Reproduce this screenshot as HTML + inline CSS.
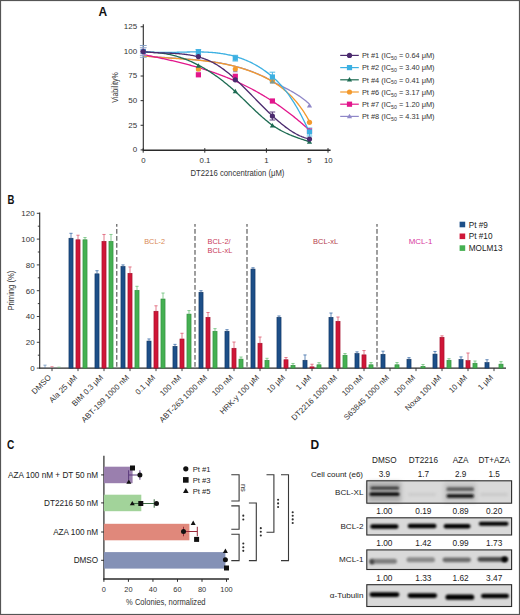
<!DOCTYPE html>
<html><head><meta charset="utf-8"><style>html,body{margin:0;padding:0;background:#fff;}svg{display:block;}text{font-family:"Liberation Sans",sans-serif;}</style></head>
<body>
<svg width="520" height="615" viewBox="0 0 520 615" font-family="Liberation Sans">
<defs><filter id="bl1" x="-20%" y="-100%" width="140%" height="300%"><feGaussianBlur stdDeviation="0.9"/></filter><filter id="bl2" x="-30%" y="-200%" width="160%" height="500%"><feGaussianBlur stdDeviation="1.4"/></filter><filter id="bl05" x="-20%" y="-100%" width="140%" height="300%"><feGaussianBlur stdDeviation="0.5"/></filter><filter id="bl08" x="-30%" y="-150%" width="160%" height="400%"><feGaussianBlur stdDeviation="1.0"/></filter><filter id="bl12" x="-30%" y="-200%" width="160%" height="500%"><feGaussianBlur stdDeviation="1.2"/></filter><filter id="bl3" x="-40%" y="-50%" width="180%" height="200%"><feGaussianBlur stdDeviation="2.2"/></filter></defs>
<rect x="0" y="0" width="520" height="615" fill="#fff"/>
<text x="98.40" y="16.10" font-size="12" fill="#111" text-anchor="start" font-weight="bold" >A</text>
<line x1="143.3" y1="24.3" x2="143.3" y2="150.5" stroke="#2a2a2a" stroke-width="1.1"/>
<line x1="142.8" y1="150.20000000000002" x2="330.6" y2="150.20000000000002" stroke="#2a2a2a" stroke-width="1.4"/>
<line x1="140.6" y1="149.90" x2="143.3" y2="149.90" stroke="#2a2a2a" stroke-width="1"/>
<text x="137.20" y="152.20" font-size="8.0" fill="#333" text-anchor="end" font-weight="normal" >0</text>
<line x1="140.6" y1="125.28" x2="143.3" y2="125.28" stroke="#2a2a2a" stroke-width="1"/>
<text x="137.20" y="127.58" font-size="8.0" fill="#333" text-anchor="end" font-weight="normal" >25</text>
<line x1="140.6" y1="100.65" x2="143.3" y2="100.65" stroke="#2a2a2a" stroke-width="1"/>
<text x="137.20" y="102.95" font-size="8.0" fill="#333" text-anchor="end" font-weight="normal" >50</text>
<line x1="140.6" y1="76.03" x2="143.3" y2="76.03" stroke="#2a2a2a" stroke-width="1"/>
<text x="137.20" y="78.33" font-size="8.0" fill="#333" text-anchor="end" font-weight="normal" >75</text>
<line x1="140.6" y1="51.40" x2="143.3" y2="51.40" stroke="#2a2a2a" stroke-width="1"/>
<text x="137.20" y="53.70" font-size="8.0" fill="#333" text-anchor="end" font-weight="normal" >100</text>
<line x1="140.6" y1="26.78" x2="143.3" y2="26.78" stroke="#2a2a2a" stroke-width="1"/>
<text x="137.20" y="29.08" font-size="8.0" fill="#333" text-anchor="end" font-weight="normal" >125</text>
<line x1="143.20" y1="148.1" x2="143.20" y2="152.70000000000002" stroke="#2a2a2a" stroke-width="1"/>
<line x1="204.80" y1="148.1" x2="204.80" y2="152.70000000000002" stroke="#2a2a2a" stroke-width="1"/>
<line x1="266.40" y1="148.1" x2="266.40" y2="152.70000000000002" stroke="#2a2a2a" stroke-width="1"/>
<line x1="328.00" y1="148.1" x2="328.00" y2="152.70000000000002" stroke="#2a2a2a" stroke-width="1"/>
<text x="143.30" y="163.10" font-size="7.8" fill="#333" text-anchor="middle" font-weight="normal" >0</text>
<text x="205.00" y="163.10" font-size="7.8" fill="#333" text-anchor="middle" font-weight="normal" >0.1</text>
<text x="266.40" y="163.10" font-size="7.8" fill="#333" text-anchor="middle" font-weight="normal" >1</text>
<text x="309.30" y="163.10" font-size="7.8" fill="#333" text-anchor="middle" font-weight="normal" >5</text>
<text x="328.30" y="163.10" font-size="7.8" fill="#333" text-anchor="middle" font-weight="normal" >10</text>
<text x="237.40" y="175.60" font-size="8.6" fill="#333" text-anchor="middle" font-weight="normal" textLength="94" lengthAdjust="spacingAndGlyphs">DT2216 concentration (μM)</text>
<text transform="translate(118.4 87.5) rotate(-90)" font-size="9" fill="#333" text-anchor="middle" textLength="30.5" lengthAdjust="spacingAndGlyphs">Viability%</text>
<polyline points="143.3,55.72 144.3,55.82 145.3,55.93 146.3,56.03 147.3,56.13 148.3,56.23 149.3,56.32 150.3,56.41 151.3,56.50 152.3,56.59 153.3,56.67 154.3,56.76 155.3,56.84 156.3,56.92 157.3,57.00 158.3,57.08 159.3,57.15 160.3,57.22 161.3,57.30 162.3,57.37 163.3,57.44 164.3,57.51 165.3,57.58 166.3,57.65 167.3,57.71 168.3,57.78 169.3,57.85 170.3,57.91 171.3,57.98 172.3,58.04 173.3,58.11 174.3,58.18 175.3,58.24 176.3,58.31 177.3,58.37 178.3,58.44 179.3,58.51 180.3,58.58 181.3,58.65 182.3,58.72 183.3,58.79 184.3,58.86 185.3,58.93 186.3,59.01 187.3,59.08 188.3,59.16 189.3,59.24 190.3,59.32 191.3,59.40 192.3,59.49 193.3,59.57 194.3,59.66 195.3,59.75 196.3,59.84 197.3,59.94 198.3,60.04 199.3,60.14 200.3,60.24 201.3,60.34 202.3,60.45 203.3,60.56 204.3,60.68 205.3,60.79 206.3,60.92 207.3,61.04 208.3,61.17 209.3,61.30 210.3,61.43 211.3,61.57 212.3,61.71 213.3,61.86 214.3,62.01 215.3,62.17 216.3,62.32 217.3,62.49 218.3,62.66 219.3,62.83 220.3,63.00 221.3,63.19 222.3,63.37 223.3,63.56 224.3,63.76 225.3,63.96 226.3,64.17 227.3,64.38 228.3,64.60 229.3,64.82 230.3,65.05 231.3,65.29 232.3,65.53 233.3,65.78 234.3,66.03 235.3,66.29 236.3,66.55 237.3,66.82 238.3,67.10 239.3,67.39 240.3,67.68 241.3,67.98 242.3,68.28 243.3,68.59 244.3,68.91 245.3,69.24 246.3,69.57 247.3,69.91 248.3,70.26 249.3,70.62 250.3,70.98 251.3,71.35 252.3,71.73 253.3,72.12 254.3,72.51 255.3,72.91 256.3,73.33 257.3,73.75 258.3,74.17 259.3,74.61 260.3,75.06 261.3,75.51 262.3,75.97 263.3,76.45 264.3,76.93 265.3,77.43 266.3,77.94 267.3,78.46 268.3,78.99 269.3,79.53 270.3,80.09 271.0,80.66 272.0,81.21 273.0,81.74 274.0,82.27 275.0,82.79 276.0,83.31 277.0,83.82 278.0,84.33 279.0,84.83 280.0,85.34 281.0,85.84 282.0,86.34 283.0,86.84 284.0,87.35 285.0,87.86 286.0,88.37 287.0,88.89 288.0,89.41 289.0,89.94 290.0,90.48 291.0,91.03 292.0,91.59 293.0,92.16 294.0,92.74 295.0,93.34 296.0,93.95 297.0,94.58 298.0,95.22 299.0,95.88 300.0,96.56 301.0,97.26 302.0,97.98 303.0,98.72 304.0,99.48 305.0,100.26 306.0,101.07 307.0,101.91 308.0,102.77 309.0,103.66" fill="none" stroke="#8f87c8" stroke-width="1.3" stroke-linejoin="round"/>
<polyline points="143.3,55.92 144.3,56.02 145.3,56.13 146.3,56.23 147.3,56.33 148.3,56.43 149.3,56.52 150.3,56.61 151.3,56.70 152.3,56.79 153.3,56.87 154.3,56.96 155.3,57.04 156.3,57.12 157.3,57.20 158.3,57.28 159.3,57.35 160.3,57.42 161.3,57.50 162.3,57.57 163.3,57.64 164.3,57.71 165.3,57.78 166.3,57.85 167.3,57.91 168.3,57.98 169.3,58.05 170.3,58.11 171.3,58.18 172.3,58.24 173.3,58.31 174.3,58.38 175.3,58.44 176.3,58.51 177.3,58.57 178.3,58.64 179.3,58.71 180.3,58.78 181.3,58.85 182.3,58.92 183.3,58.99 184.3,59.06 185.3,59.13 186.3,59.21 187.3,59.28 188.3,59.36 189.3,59.44 190.3,59.52 191.3,59.60 192.3,59.69 193.3,59.77 194.3,59.86 195.3,59.95 196.3,60.04 197.3,60.14 198.3,60.24 199.3,60.34 200.3,60.44 201.3,60.54 202.3,60.65 203.3,60.76 204.3,60.88 205.3,60.99 206.3,61.12 207.3,61.24 208.3,61.37 209.3,61.50 210.3,61.63 211.3,61.77 212.3,61.91 213.3,62.06 214.3,62.21 215.3,62.37 216.3,62.52 217.3,62.69 218.3,62.86 219.3,63.03 220.3,63.20 221.3,63.39 222.3,63.57 223.3,63.76 224.3,63.96 225.3,64.16 226.3,64.37 227.3,64.58 228.3,64.80 229.3,65.02 230.3,65.25 231.3,65.49 232.3,65.73 233.3,65.98 234.3,66.23 235.3,66.49 236.3,66.75 237.3,67.02 238.3,67.30 239.3,67.59 240.3,67.88 241.3,68.18 242.3,68.48 243.3,68.79 244.3,69.11 245.3,69.44 246.3,69.77 247.3,70.11 248.3,70.46 249.3,70.82 250.3,71.18 251.3,71.55 252.3,71.93 253.3,72.32 254.3,72.71 255.3,73.11 256.3,73.53 257.3,73.95 258.3,74.37 259.3,74.81 260.3,75.26 261.3,75.71 262.3,76.17 263.3,76.65 264.3,77.13 265.3,77.63 266.3,78.14 267.3,78.66 268.3,79.19 269.3,79.73 270.3,80.29 271.3,80.87 272.3,81.45 273.3,82.06 274.3,82.68 275.3,83.32 276.3,83.97 277.3,84.64 278.3,85.33 279.3,86.04 280.3,86.77 281.3,87.52 282.3,88.29 283.3,89.07 284.3,89.89 285.3,90.72 286.3,91.58 287.3,92.46 288.3,93.37 289.3,94.31 290.3,95.27 291.3,96.27 292.3,97.30 293.3,98.37 294.3,99.47 295.3,100.61 296.3,101.78 297.3,102.99 298.3,104.25 299.3,105.55 300.3,106.89 301.3,108.27 302.3,109.71 303.3,111.19 304.3,112.72 305.3,114.30 306.3,115.93 307.3,117.62 308.3,119.36 309.3,121.16" fill="none" stroke="#f39a2e" stroke-width="1.3" stroke-linejoin="round"/>
<polyline points="143.3,54.62 144.3,54.82 145.3,55.02 146.3,55.21 147.3,55.41 148.3,55.61 149.3,55.81 150.3,56.01 151.3,56.21 152.3,56.41 153.3,56.62 154.3,56.82 155.3,57.03 156.3,57.23 157.3,57.44 158.3,57.65 159.3,57.86 160.3,58.07 161.3,58.29 162.3,58.50 163.3,58.72 164.3,58.93 165.3,59.15 166.3,59.37 167.3,59.59 168.3,59.82 169.3,60.04 170.3,60.27 171.3,60.50 172.3,60.73 173.3,60.96 174.3,61.20 175.3,61.43 176.3,61.67 177.3,61.91 178.3,62.16 179.3,62.40 180.3,62.65 181.3,62.90 182.3,63.15 183.3,63.40 184.3,63.66 185.3,63.92 186.3,64.18 187.3,64.45 188.3,64.71 189.3,64.98 190.3,65.25 191.3,65.53 192.3,65.81 193.3,66.09 194.3,66.37 195.3,66.66 196.3,66.95 197.3,67.24 198.3,67.53 199.3,67.83 200.3,68.13 201.3,68.44 202.3,68.75 203.3,69.06 204.3,69.37 205.3,69.69 206.3,70.01 207.3,70.34 208.3,70.66 209.3,71.00 210.3,71.33 211.3,71.67 212.3,72.01 213.3,72.36 214.3,72.71 215.3,73.07 216.3,73.42 217.3,73.79 218.3,74.15 219.3,74.52 220.3,74.90 221.3,75.27 222.3,75.66 223.3,76.04 224.3,76.43 225.3,76.83 226.3,77.23 227.3,77.63 228.3,78.04 229.3,78.46 230.3,78.87 231.3,79.29 232.3,79.72 233.3,80.15 234.3,80.59 235.3,81.03 236.3,81.48 237.3,81.93 238.3,82.38 239.3,82.84 240.3,83.31 241.3,83.78 242.3,84.25 243.3,84.73 244.3,85.22 245.3,85.71 246.3,86.21 247.3,86.71 248.3,87.22 249.3,87.73 250.3,88.25 251.3,88.77 252.3,89.30 253.3,89.83 254.3,90.37 255.3,90.92 256.3,91.47 257.3,92.03 258.3,92.59 259.3,93.16 260.3,93.73 261.3,94.32 262.3,94.90 263.3,95.50 264.3,96.09 265.3,96.70 266.3,97.31 267.3,97.93 268.3,98.55 269.3,99.18 270.3,99.82 271.3,100.46 272.3,101.11 273.3,101.77 274.3,102.43 275.3,103.10 276.3,103.78 277.3,104.46 278.3,105.15 279.3,105.84 280.3,106.55 281.3,107.26 282.3,107.97 283.3,108.70 284.3,109.43 285.3,110.17 286.3,110.91 287.3,111.66 288.3,112.42 289.3,113.19 290.3,113.96 291.3,114.75 292.3,115.53 293.3,116.33 294.3,117.13 295.3,117.94 296.3,118.76 297.3,119.59 298.3,120.42 299.3,121.27 300.3,122.12 301.3,122.97 302.3,123.84 303.3,124.71 304.3,125.59 305.3,126.48 306.3,127.38 307.3,128.28 308.3,129.20 309.3,130.12" fill="none" stroke="#e2168c" stroke-width="1.3" stroke-linejoin="round"/>
<polyline points="143.3,52.54 144.3,52.48 145.3,52.43 146.3,52.40 147.3,52.37 148.3,52.35 149.3,52.35 150.3,52.36 151.3,52.37 152.3,52.40 153.3,52.44 154.3,52.49 155.3,52.54 156.3,52.61 157.3,52.69 158.3,52.78 159.3,52.88 160.3,53.00 161.3,53.12 162.3,53.25 163.3,53.39 164.3,53.55 165.3,53.71 166.3,53.89 167.3,54.07 168.3,54.27 169.3,54.47 170.3,54.69 171.3,54.92 172.3,55.16 173.3,55.40 174.3,55.66 175.3,55.93 176.3,56.21 177.3,56.50 178.3,56.81 179.3,57.12 180.3,57.44 181.3,57.77 182.3,58.12 183.3,58.47 184.3,58.84 185.3,59.21 186.3,59.60 187.3,60.00 188.3,60.40 189.3,60.82 190.3,61.25 191.3,61.69 192.3,62.14 193.3,62.60 194.3,63.07 195.3,63.55 196.3,64.05 197.3,64.55 198.3,65.06 199.3,65.59 200.3,66.12 201.3,66.67 202.3,67.22 203.3,67.79 204.3,68.37 205.3,68.96 206.3,69.55 207.3,70.16 208.3,70.78 209.3,71.41 210.3,72.06 211.3,72.71 212.3,73.37 213.3,74.04 214.3,74.73 215.3,75.42 216.3,76.13 217.3,76.84 218.3,77.57 219.3,78.31 220.3,79.05 221.3,79.81 222.3,80.58 223.3,81.36 224.3,82.15 225.3,82.95 226.3,83.77 227.3,84.59 228.3,85.42 229.3,86.27 230.3,87.12 231.3,87.99 232.3,88.86 233.3,89.75 234.3,90.65 235.3,91.55 236.3,92.47 237.3,93.40 238.3,94.34 239.3,95.28 240.3,96.23 241.3,97.19 242.3,98.15 243.3,99.11 244.3,100.08 245.3,101.05 246.3,102.03 247.3,103.00 248.3,103.97 249.3,104.95 250.3,105.92 251.3,106.89 252.3,107.85 253.3,108.81 254.3,109.77 255.3,110.72 256.3,111.66 257.3,112.59 258.3,113.52 259.3,114.44 260.3,115.35 261.3,116.24 262.3,117.13 263.3,118.00 264.3,118.85 265.3,119.70 266.3,120.53 267.3,121.34 268.3,122.13 269.3,122.91 270.3,123.67 271.3,124.41 272.3,125.13 273.3,125.82 274.3,126.50 275.3,127.16 276.3,127.79 277.3,128.41 278.3,129.01 279.3,129.59 280.3,130.16 281.3,130.71 282.3,131.24 283.3,131.76 284.3,132.26 285.3,132.74 286.3,133.22 287.3,133.68 288.3,134.13 289.3,134.56 290.3,134.99 291.3,135.40 292.3,135.80 293.3,136.20 294.3,136.58 295.3,136.96 296.3,137.33 297.3,137.69 298.3,138.04 299.3,138.39 300.3,138.74 301.3,139.07 302.3,139.41 303.3,139.74 304.3,140.06 305.3,140.39 306.3,140.71 307.3,141.03 308.3,141.35 309.3,141.67" fill="none" stroke="#1d6b52" stroke-width="1.3" stroke-linejoin="round"/>
<polyline points="143.3,51.48 144.3,51.58 145.3,51.68 146.3,51.78 147.3,51.86 148.3,51.94 149.3,52.02 150.3,52.08 151.3,52.14 152.3,52.20 153.3,52.25 154.3,52.29 155.3,52.33 156.3,52.36 157.3,52.39 158.3,52.42 159.3,52.44 160.3,52.45 161.3,52.46 162.3,52.47 163.3,52.47 164.3,52.47 165.3,52.47 166.3,52.47 167.3,52.46 168.3,52.45 169.3,52.43 170.3,52.42 171.3,52.40 172.3,52.38 173.3,52.36 174.3,52.34 175.3,52.31 176.3,52.29 177.3,52.26 178.3,52.24 179.3,52.21 180.3,52.19 181.3,52.16 182.3,52.13 183.3,52.11 184.3,52.08 185.3,52.06 186.3,52.04 187.3,52.02 188.3,52.00 189.3,51.98 190.3,51.96 191.3,51.95 192.3,51.94 193.3,51.93 194.3,51.92 195.3,51.92 196.3,51.91 197.3,51.92 198.3,51.92 199.3,51.93 200.3,51.95 201.3,51.97 202.3,51.99 203.3,52.02 204.3,52.05 205.3,52.08 206.3,52.13 207.3,52.17 208.3,52.23 209.3,52.29 210.3,52.35 211.3,52.42 212.3,52.50 213.3,52.58 214.3,52.67 215.3,52.77 216.3,52.88 217.3,52.99 218.3,53.11 219.3,53.24 220.3,53.37 221.3,53.52 222.3,53.67 223.3,53.83 224.3,54.00 225.3,54.18 226.3,54.37 227.3,54.57 228.3,54.78 229.3,54.99 230.3,55.22 231.3,55.46 232.3,55.71 233.3,55.97 234.3,56.24 235.3,56.52 236.3,56.81 237.3,57.12 238.3,57.43 239.3,57.76 240.3,58.10 241.3,58.45 242.3,58.82 243.3,59.19 244.3,59.58 245.3,59.99 246.3,60.40 247.3,60.83 248.3,61.28 249.3,61.74 250.3,62.21 251.3,62.70 252.3,63.20 253.3,63.71 254.3,64.25 255.3,64.79 256.3,65.35 257.3,65.93 258.3,66.52 259.3,67.13 260.3,67.76 261.3,68.40 262.3,69.06 263.3,69.74 264.3,70.43 265.3,71.14 266.3,71.87 267.3,72.61 268.3,73.38 269.3,74.16 270.3,74.97 271.3,75.80 272.3,76.66 273.3,77.54 274.3,78.44 275.3,79.37 276.3,80.33 277.3,81.31 278.3,82.32 279.3,83.37 280.3,84.44 281.3,85.54 282.3,86.68 283.3,87.85 284.3,89.05 285.3,90.29 286.3,91.57 287.3,92.88 288.3,94.23 289.3,95.61 290.3,97.04 291.3,98.51 292.3,100.02 293.3,101.57 294.3,103.16 295.3,104.80 296.3,106.48 297.3,108.20 298.3,109.97 299.3,111.78 300.3,113.63 301.3,115.52 302.3,117.46 303.3,119.44 304.3,121.46 305.3,123.53 306.3,125.64 307.3,127.79 308.3,129.98 309.3,132.22" fill="none" stroke="#3cb0e2" stroke-width="1.3" stroke-linejoin="round"/>
<polyline points="143.3,51.53 144.3,51.66 145.3,51.78 146.3,51.89 147.3,52.00 148.3,52.09 149.3,52.18 150.3,52.27 151.3,52.35 152.3,52.42 153.3,52.49 154.3,52.55 155.3,52.61 156.3,52.66 157.3,52.71 158.3,52.76 159.3,52.80 160.3,52.84 161.3,52.88 162.3,52.92 163.3,52.96 164.3,53.00 165.3,53.03 166.3,53.07 167.3,53.11 168.3,53.15 169.3,53.19 170.3,53.23 171.3,53.27 172.3,53.32 173.3,53.37 174.3,53.42 175.3,53.48 176.3,53.54 177.3,53.61 178.3,53.68 179.3,53.76 180.3,53.84 181.3,53.93 182.3,54.03 183.3,54.14 184.3,54.25 185.3,54.37 186.3,54.50 187.3,54.64 188.3,54.78 189.3,54.94 190.3,55.11 191.3,55.29 192.3,55.48 193.3,55.68 194.3,55.89 195.3,56.12 196.3,56.35 197.3,56.61 198.3,56.87 199.3,57.15 200.3,57.44 201.3,57.75 202.3,58.08 203.3,58.42 204.3,58.77 205.3,59.14 206.3,59.53 207.3,59.94 208.3,60.37 209.3,60.81 210.3,61.27 211.3,61.75 212.3,62.25 213.3,62.77 214.3,63.32 215.3,63.88 216.3,64.46 217.3,65.07 218.3,65.69 219.3,66.34 220.3,67.01 221.3,67.70 222.3,68.41 223.3,69.14 224.3,69.88 225.3,70.65 226.3,71.43 227.3,72.23 228.3,73.04 229.3,73.87 230.3,74.72 231.3,75.57 232.3,76.45 233.3,77.33 234.3,78.23 235.3,79.14 236.3,80.06 237.3,80.99 238.3,81.94 239.3,82.89 240.3,83.85 241.3,84.82 242.3,85.79 243.3,86.78 244.3,87.77 245.3,88.76 246.3,89.76 247.3,90.77 248.3,91.78 249.3,92.79 250.3,93.81 251.3,94.83 252.3,95.85 253.3,96.87 254.3,97.89 255.3,98.91 256.3,99.93 257.3,100.95 258.3,101.97 259.3,102.99 260.3,104.00 261.3,105.01 262.3,106.02 263.3,107.02 264.3,108.02 265.3,109.02 266.3,110.00 267.3,110.98 268.3,111.95 269.3,112.92 270.3,113.88 271.3,114.82 272.3,115.76 273.3,116.69 274.3,117.61 275.3,118.52 276.3,119.41 277.3,120.30 278.3,121.17 279.3,122.02 280.3,122.87 281.3,123.70 282.3,124.51 283.3,125.31 284.3,126.09 285.3,126.86 286.3,127.61 287.3,128.34 288.3,129.05 289.3,129.75 290.3,130.42 291.3,131.08 292.3,131.71 293.3,132.33 294.3,132.92 295.3,133.49 296.3,134.04 297.3,134.56 298.3,135.06 299.3,135.54 300.3,135.99 301.3,136.41 302.3,136.81 303.3,137.18 304.3,137.53 305.3,137.85 306.3,138.14 307.3,138.40 308.3,138.63 309.3,138.83" fill="none" stroke="#4b2a6e" stroke-width="1.3" stroke-linejoin="round"/>
<line x1="143.3" y1="45.5" x2="143.3" y2="57.3" stroke="#7f9cc4" stroke-width="0.9"/>
<line x1="139.9" y1="45.5" x2="146.70000000000002" y2="45.5" stroke="#7f9cc4" stroke-width="0.9"/>
<line x1="139.9" y1="57.3" x2="146.70000000000002" y2="57.3" stroke="#7f9cc4" stroke-width="0.9"/>
<line x1="143.3" y1="47.7" x2="143.3" y2="55.4" stroke="#8fa3c8" stroke-width="0.9"/>
<line x1="139.9" y1="47.7" x2="146.70000000000002" y2="47.7" stroke="#8fa3c8" stroke-width="0.9"/>
<line x1="139.9" y1="55.4" x2="146.70000000000002" y2="55.4" stroke="#8fa3c8" stroke-width="0.9"/>
<line x1="235.3" y1="55.3" x2="235.3" y2="61.0" stroke="#3cb0e2" stroke-width="0.9"/>
<line x1="232.5" y1="55.3" x2="238.10000000000002" y2="55.3" stroke="#3cb0e2" stroke-width="0.9"/>
<line x1="232.5" y1="61.0" x2="238.10000000000002" y2="61.0" stroke="#3cb0e2" stroke-width="0.9"/>
<line x1="272.4" y1="72.2" x2="272.4" y2="82.0" stroke="#3cb0e2" stroke-width="0.9"/>
<line x1="269.59999999999997" y1="72.2" x2="275.2" y2="72.2" stroke="#3cb0e2" stroke-width="0.9"/>
<line x1="269.59999999999997" y1="82.0" x2="275.2" y2="82.0" stroke="#3cb0e2" stroke-width="0.9"/>
<line x1="309.5" y1="128.0" x2="309.5" y2="136.0" stroke="#3cb0e2" stroke-width="0.9"/>
<line x1="306.7" y1="128.0" x2="312.3" y2="128.0" stroke="#3cb0e2" stroke-width="0.9"/>
<line x1="306.7" y1="136.0" x2="312.3" y2="136.0" stroke="#3cb0e2" stroke-width="0.9"/>
<line x1="272.4" y1="112.0" x2="272.4" y2="120.0" stroke="#4b2a6e" stroke-width="0.9"/>
<line x1="269.59999999999997" y1="112.0" x2="275.2" y2="112.0" stroke="#4b2a6e" stroke-width="0.9"/>
<line x1="269.59999999999997" y1="120.0" x2="275.2" y2="120.0" stroke="#4b2a6e" stroke-width="0.9"/>
<line x1="198.4" y1="49.5" x2="198.4" y2="54.8" stroke="#3cb0e2" stroke-width="0.9"/>
<line x1="195.6" y1="49.5" x2="201.20000000000002" y2="49.5" stroke="#3cb0e2" stroke-width="0.9"/>
<line x1="195.6" y1="54.8" x2="201.20000000000002" y2="54.8" stroke="#3cb0e2" stroke-width="0.9"/>
<path d="M143.30,48.77 L145.90,53.32 L140.70,53.32 Z" fill="#8f87c8"/>
<path d="M198.40,66.77 L201.00,71.32 L195.80,71.32 Z" fill="#8f87c8"/>
<path d="M235.30,67.77 L237.90,72.32 L232.70,72.32 Z" fill="#8f87c8"/>
<path d="M272.40,78.77 L275.00,83.32 L269.80,83.32 Z" fill="#8f87c8"/>
<path d="M309.50,103.07 L312.10,107.62 L306.90,107.62 Z" fill="#8f87c8"/>
<circle cx="143.30" cy="51.50" r="2.60" fill="#f39a2e"/>
<circle cx="198.40" cy="69.00" r="2.60" fill="#f39a2e"/>
<circle cx="235.30" cy="69.00" r="2.60" fill="#f39a2e"/>
<circle cx="272.40" cy="80.60" r="2.60" fill="#f39a2e"/>
<circle cx="309.50" cy="122.30" r="2.60" fill="#f39a2e"/>
<path d="M272.40,79.07 L275.00,83.62 L269.80,83.62 Z" fill="#7f9a86"/>
<rect x="140.70" y="48.90" width="5.20" height="5.20" fill="#e2168c"/>
<rect x="195.80" y="72.20" width="5.20" height="5.20" fill="#e2168c"/>
<rect x="232.70" y="73.70" width="5.20" height="5.20" fill="#e2168c"/>
<rect x="269.80" y="98.40" width="5.20" height="5.20" fill="#e2168c"/>
<rect x="306.90" y="128.40" width="5.20" height="5.20" fill="#e2168c"/>
<path d="M143.30,48.77 L145.90,53.32 L140.70,53.32 Z" fill="#1d6b52"/>
<path d="M198.40,63.17 L201.00,67.72 L195.80,67.72 Z" fill="#1d6b52"/>
<path d="M235.30,88.77 L237.90,93.32 L232.70,93.32 Z" fill="#1d6b52"/>
<path d="M272.40,122.97 L275.00,127.52 L269.80,127.52 Z" fill="#1d6b52"/>
<path d="M309.50,139.17 L312.10,143.72 L306.90,143.72 Z" fill="#1d6b52"/>
<rect x="140.70" y="48.90" width="5.20" height="5.20" fill="#3cb0e2"/>
<rect x="195.80" y="49.50" width="5.20" height="5.20" fill="#3cb0e2"/>
<rect x="232.70" y="55.50" width="5.20" height="5.20" fill="#3cb0e2"/>
<rect x="269.80" y="74.40" width="5.20" height="5.20" fill="#3cb0e2"/>
<rect x="306.90" y="129.30" width="5.20" height="5.20" fill="#3cb0e2"/>
<circle cx="143.30" cy="51.50" r="2.60" fill="#4b2a6e"/>
<circle cx="198.40" cy="56.60" r="2.60" fill="#4b2a6e"/>
<circle cx="235.30" cy="79.80" r="2.60" fill="#4b2a6e"/>
<circle cx="272.40" cy="116.00" r="2.60" fill="#4b2a6e"/>
<circle cx="309.50" cy="139.10" r="2.60" fill="#4b2a6e"/>
<line x1="340.2" y1="55.40" x2="358.8" y2="55.40" stroke="#4b2a6e" stroke-width="1.2"/>
<circle cx="349.50" cy="55.40" r="2.60" fill="#4b2a6e"/>
<text x="361.9" y="58.10" font-size="7.4" fill="#333">Pt #1 (IC<tspan font-size="5.2" dy="1.8">50</tspan><tspan dy="-1.8"> = 0.64 μM)</tspan></text>
<line x1="340.2" y1="67.60" x2="358.8" y2="67.60" stroke="#3cb0e2" stroke-width="1.2"/>
<rect x="346.90" y="65.00" width="5.20" height="5.20" fill="#3cb0e2"/>
<text x="361.9" y="70.30" font-size="7.4" fill="#333">Pt #2 (IC<tspan font-size="5.2" dy="1.8">50</tspan><tspan dy="-1.8"> = 3.40 μM)</tspan></text>
<line x1="340.2" y1="79.80" x2="358.8" y2="79.80" stroke="#1d6b52" stroke-width="1.2"/>
<path d="M349.50,77.07 L352.10,81.62 L346.90,81.62 Z" fill="#1d6b52"/>
<text x="361.9" y="82.50" font-size="7.4" fill="#333">Pt #4 (IC<tspan font-size="5.2" dy="1.8">50</tspan><tspan dy="-1.8"> = 0.41 μM)</tspan></text>
<line x1="340.2" y1="92.00" x2="358.8" y2="92.00" stroke="#f39a2e" stroke-width="1.2"/>
<circle cx="349.50" cy="92.00" r="2.60" fill="#f39a2e"/>
<text x="361.9" y="94.70" font-size="7.4" fill="#333">Pt #6 (IC<tspan font-size="5.2" dy="1.8">50</tspan><tspan dy="-1.8"> = 3.17 μM)</tspan></text>
<line x1="340.2" y1="104.20" x2="358.8" y2="104.20" stroke="#e2168c" stroke-width="1.2"/>
<rect x="346.90" y="101.60" width="5.20" height="5.20" fill="#e2168c"/>
<text x="361.9" y="106.90" font-size="7.4" fill="#333">Pt #7 (IC<tspan font-size="5.2" dy="1.8">50</tspan><tspan dy="-1.8"> = 1.20 μM)</tspan></text>
<line x1="340.2" y1="116.40" x2="358.8" y2="116.40" stroke="#8f87c8" stroke-width="1.2"/>
<path d="M349.50,113.67 L352.10,118.22 L346.90,118.22 Z" fill="#8f87c8"/>
<text x="361.9" y="119.10" font-size="7.4" fill="#333">Pt #8 (IC<tspan font-size="5.2" dy="1.8">50</tspan><tspan dy="-1.8"> = 4.31 μM)</tspan></text>
<text x="7.50" y="203.50" font-size="12" fill="#111" text-anchor="start" font-weight="bold" textLength="6.9" lengthAdjust="spacingAndGlyphs">B</text>
<line x1="39.7" y1="212.6" x2="39.7" y2="368.6" stroke="#2a2a2a" stroke-width="1.1"/>
<line x1="39.2" y1="368.1" x2="506" y2="368.1" stroke="#2a2a2a" stroke-width="1.3"/>
<line x1="36.8" y1="368.10" x2="39.7" y2="368.10" stroke="#2a2a2a" stroke-width="0.9"/>
<text x="34.60" y="371.00" font-size="8" fill="#333" text-anchor="end" font-weight="normal" >0</text>
<line x1="37.8" y1="355.20" x2="39.7" y2="355.20" stroke="#2a2a2a" stroke-width="0.9"/>
<line x1="36.8" y1="342.30" x2="39.7" y2="342.30" stroke="#2a2a2a" stroke-width="0.9"/>
<text x="34.60" y="345.20" font-size="8" fill="#333" text-anchor="end" font-weight="normal" >20</text>
<line x1="37.8" y1="329.40" x2="39.7" y2="329.40" stroke="#2a2a2a" stroke-width="0.9"/>
<line x1="36.8" y1="316.50" x2="39.7" y2="316.50" stroke="#2a2a2a" stroke-width="0.9"/>
<text x="34.60" y="319.40" font-size="8" fill="#333" text-anchor="end" font-weight="normal" >40</text>
<line x1="37.8" y1="303.60" x2="39.7" y2="303.60" stroke="#2a2a2a" stroke-width="0.9"/>
<line x1="36.8" y1="290.70" x2="39.7" y2="290.70" stroke="#2a2a2a" stroke-width="0.9"/>
<text x="34.60" y="293.60" font-size="8" fill="#333" text-anchor="end" font-weight="normal" >60</text>
<line x1="37.8" y1="277.80" x2="39.7" y2="277.80" stroke="#2a2a2a" stroke-width="0.9"/>
<line x1="36.8" y1="264.90" x2="39.7" y2="264.90" stroke="#2a2a2a" stroke-width="0.9"/>
<text x="34.60" y="267.80" font-size="8" fill="#333" text-anchor="end" font-weight="normal" >80</text>
<line x1="37.8" y1="252.00" x2="39.7" y2="252.00" stroke="#2a2a2a" stroke-width="0.9"/>
<line x1="36.8" y1="239.10" x2="39.7" y2="239.10" stroke="#2a2a2a" stroke-width="0.9"/>
<text x="34.60" y="242.00" font-size="8" fill="#333" text-anchor="end" font-weight="normal" >100</text>
<line x1="37.8" y1="226.20" x2="39.7" y2="226.20" stroke="#2a2a2a" stroke-width="0.9"/>
<line x1="36.8" y1="213.30" x2="39.7" y2="213.30" stroke="#2a2a2a" stroke-width="0.9"/>
<text x="34.60" y="216.20" font-size="8" fill="#333" text-anchor="end" font-weight="normal" >120</text>
<text transform="translate(14.0 290.6) rotate(-90)" font-size="8.6" fill="#333" text-anchor="middle" textLength="40" lengthAdjust="spacingAndGlyphs">Priming (%)</text>
<line x1="52" y1="368.1" x2="52" y2="371.1" stroke="#2a2a2a" stroke-width="0.9"/>
<line x1="43.4" y1="365.13" x2="46.6" y2="365.13" stroke="#3f6fa8" stroke-width="0.8" opacity="0.7"/>
<line x1="45" y1="365.13" x2="45" y2="368.1" stroke="#3f6fa8" stroke-width="0.8" opacity="0.7"/>
<line x1="50.4" y1="366.55" x2="53.6" y2="366.55" stroke="#dd5a70" stroke-width="0.8" opacity="0.7"/>
<line x1="52" y1="366.55" x2="52" y2="368.1" stroke="#dd5a70" stroke-width="0.8" opacity="0.7"/>
<line x1="57.4" y1="367.07" x2="60.6" y2="367.07" stroke="#6cc078" stroke-width="0.8" opacity="0.7"/>
<line x1="59" y1="367.07" x2="59" y2="368.1" stroke="#6cc078" stroke-width="0.8" opacity="0.7"/>
<line x1="78" y1="368.1" x2="78" y2="371.1" stroke="#2a2a2a" stroke-width="0.9"/>
<line x1="71" y1="233.30" x2="71" y2="237.94" stroke="#3f6fa8" stroke-width="0.8"/>
<line x1="69.4" y1="233.30" x2="72.6" y2="233.30" stroke="#3f6fa8" stroke-width="0.8"/>
<rect x="68.95" y="238.24" width="4.10" height="129.86" fill="#1d4f88" stroke="#0f3360" stroke-width="0.6"/>
<line x1="78" y1="235.23" x2="78" y2="239.49" stroke="#dd5a70" stroke-width="0.8"/>
<line x1="76.4" y1="235.23" x2="79.6" y2="235.23" stroke="#dd5a70" stroke-width="0.8"/>
<rect x="75.95" y="239.79" width="4.10" height="128.31" fill="#cf1637" stroke="#a10c28" stroke-width="0.6"/>
<line x1="85" y1="237.55" x2="85" y2="239.49" stroke="#6cc078" stroke-width="0.8"/>
<line x1="83.4" y1="237.55" x2="86.6" y2="237.55" stroke="#6cc078" stroke-width="0.8"/>
<rect x="82.95" y="239.79" width="4.10" height="128.31" fill="#45b052" stroke="#2e8a3b" stroke-width="0.6"/>
<line x1="104" y1="368.1" x2="104" y2="371.1" stroke="#2a2a2a" stroke-width="0.9"/>
<line x1="97" y1="270.71" x2="97" y2="273.54" stroke="#3f6fa8" stroke-width="0.8"/>
<line x1="95.4" y1="270.71" x2="98.6" y2="270.71" stroke="#3f6fa8" stroke-width="0.8"/>
<rect x="94.95" y="273.84" width="4.10" height="94.26" fill="#1d4f88" stroke="#0f3360" stroke-width="0.6"/>
<line x1="104" y1="234.46" x2="104" y2="241.04" stroke="#dd5a70" stroke-width="0.8"/>
<line x1="102.4" y1="234.46" x2="105.6" y2="234.46" stroke="#dd5a70" stroke-width="0.8"/>
<rect x="101.95" y="241.34" width="4.10" height="126.77" fill="#cf1637" stroke="#a10c28" stroke-width="0.6"/>
<line x1="111" y1="234.46" x2="111" y2="241.04" stroke="#6cc078" stroke-width="0.8"/>
<line x1="109.4" y1="234.46" x2="112.6" y2="234.46" stroke="#6cc078" stroke-width="0.8"/>
<rect x="108.95" y="241.34" width="4.10" height="126.77" fill="#45b052" stroke="#2e8a3b" stroke-width="0.6"/>
<line x1="130" y1="368.1" x2="130" y2="371.1" stroke="#2a2a2a" stroke-width="0.9"/>
<line x1="123" y1="264.90" x2="123" y2="266.19" stroke="#3f6fa8" stroke-width="0.8"/>
<line x1="121.4" y1="264.90" x2="124.6" y2="264.90" stroke="#3f6fa8" stroke-width="0.8"/>
<rect x="120.95" y="266.49" width="4.10" height="101.61" fill="#1d4f88" stroke="#0f3360" stroke-width="0.6"/>
<line x1="130" y1="266.96" x2="130" y2="273.03" stroke="#dd5a70" stroke-width="0.8"/>
<line x1="128.4" y1="266.96" x2="131.6" y2="266.96" stroke="#dd5a70" stroke-width="0.8"/>
<rect x="127.95" y="273.33" width="4.10" height="94.77" fill="#cf1637" stroke="#a10c28" stroke-width="0.6"/>
<line x1="137" y1="286.31" x2="137" y2="290.06" stroke="#6cc078" stroke-width="0.8"/>
<line x1="135.4" y1="286.31" x2="138.6" y2="286.31" stroke="#6cc078" stroke-width="0.8"/>
<rect x="134.95" y="290.36" width="4.10" height="77.75" fill="#45b052" stroke="#2e8a3b" stroke-width="0.6"/>
<line x1="156" y1="368.1" x2="156" y2="371.1" stroke="#2a2a2a" stroke-width="0.9"/>
<line x1="149" y1="338.95" x2="149" y2="340.75" stroke="#3f6fa8" stroke-width="0.8"/>
<line x1="147.4" y1="338.95" x2="150.6" y2="338.95" stroke="#3f6fa8" stroke-width="0.8"/>
<rect x="146.95" y="341.05" width="4.10" height="27.05" fill="#1d4f88" stroke="#0f3360" stroke-width="0.6"/>
<line x1="156" y1="305.79" x2="156" y2="310.95" stroke="#dd5a70" stroke-width="0.8"/>
<line x1="154.4" y1="305.79" x2="157.6" y2="305.79" stroke="#dd5a70" stroke-width="0.8"/>
<rect x="153.95" y="311.25" width="4.10" height="56.85" fill="#cf1637" stroke="#a10c28" stroke-width="0.6"/>
<line x1="163" y1="293.02" x2="163" y2="298.70" stroke="#6cc078" stroke-width="0.8"/>
<line x1="161.4" y1="293.02" x2="164.6" y2="293.02" stroke="#6cc078" stroke-width="0.8"/>
<rect x="160.95" y="299.00" width="4.10" height="69.10" fill="#45b052" stroke="#2e8a3b" stroke-width="0.6"/>
<line x1="182" y1="368.1" x2="182" y2="371.1" stroke="#2a2a2a" stroke-width="0.9"/>
<line x1="175" y1="344.36" x2="175" y2="346.04" stroke="#3f6fa8" stroke-width="0.8"/>
<line x1="173.4" y1="344.36" x2="176.6" y2="344.36" stroke="#3f6fa8" stroke-width="0.8"/>
<rect x="172.95" y="346.34" width="4.10" height="21.76" fill="#1d4f88" stroke="#0f3360" stroke-width="0.6"/>
<line x1="182" y1="333.27" x2="182" y2="338.69" stroke="#dd5a70" stroke-width="0.8"/>
<line x1="180.4" y1="333.27" x2="183.6" y2="333.27" stroke="#dd5a70" stroke-width="0.8"/>
<rect x="179.95" y="338.99" width="4.10" height="29.11" fill="#cf1637" stroke="#a10c28" stroke-width="0.6"/>
<line x1="189" y1="310.57" x2="189" y2="313.79" stroke="#6cc078" stroke-width="0.8"/>
<line x1="187.4" y1="310.57" x2="190.6" y2="310.57" stroke="#6cc078" stroke-width="0.8"/>
<rect x="186.95" y="314.09" width="4.10" height="54.01" fill="#45b052" stroke="#2e8a3b" stroke-width="0.6"/>
<line x1="208" y1="368.1" x2="208" y2="371.1" stroke="#2a2a2a" stroke-width="0.9"/>
<line x1="201" y1="290.70" x2="201" y2="291.99" stroke="#3f6fa8" stroke-width="0.8"/>
<line x1="199.4" y1="290.70" x2="202.6" y2="290.70" stroke="#3f6fa8" stroke-width="0.8"/>
<rect x="198.95" y="292.29" width="4.10" height="75.81" fill="#1d4f88" stroke="#0f3360" stroke-width="0.6"/>
<line x1="208" y1="312.50" x2="208" y2="317.02" stroke="#dd5a70" stroke-width="0.8"/>
<line x1="206.4" y1="312.50" x2="209.6" y2="312.50" stroke="#dd5a70" stroke-width="0.8"/>
<rect x="205.95" y="317.32" width="4.10" height="50.78" fill="#cf1637" stroke="#a10c28" stroke-width="0.6"/>
<line x1="215" y1="328.63" x2="215" y2="330.95" stroke="#6cc078" stroke-width="0.8"/>
<line x1="213.4" y1="328.63" x2="216.6" y2="328.63" stroke="#6cc078" stroke-width="0.8"/>
<rect x="212.95" y="331.25" width="4.10" height="36.85" fill="#45b052" stroke="#2e8a3b" stroke-width="0.6"/>
<line x1="234" y1="368.1" x2="234" y2="371.1" stroke="#2a2a2a" stroke-width="0.9"/>
<line x1="227" y1="329.66" x2="227" y2="330.95" stroke="#3f6fa8" stroke-width="0.8"/>
<line x1="225.4" y1="329.66" x2="228.6" y2="329.66" stroke="#3f6fa8" stroke-width="0.8"/>
<rect x="224.95" y="331.25" width="4.10" height="36.85" fill="#1d4f88" stroke="#0f3360" stroke-width="0.6"/>
<line x1="234" y1="342.04" x2="234" y2="347.98" stroke="#dd5a70" stroke-width="0.8"/>
<line x1="232.4" y1="342.04" x2="235.6" y2="342.04" stroke="#dd5a70" stroke-width="0.8"/>
<rect x="231.95" y="348.28" width="4.10" height="19.82" fill="#cf1637" stroke="#a10c28" stroke-width="0.6"/>
<line x1="241" y1="357.01" x2="241" y2="358.81" stroke="#6cc078" stroke-width="0.8"/>
<line x1="239.4" y1="357.01" x2="242.6" y2="357.01" stroke="#6cc078" stroke-width="0.8"/>
<rect x="238.95" y="359.11" width="4.10" height="8.99" fill="#45b052" stroke="#2e8a3b" stroke-width="0.6"/>
<line x1="260" y1="368.1" x2="260" y2="371.1" stroke="#2a2a2a" stroke-width="0.9"/>
<line x1="253" y1="267.74" x2="253" y2="268.77" stroke="#3f6fa8" stroke-width="0.8"/>
<line x1="251.4" y1="267.74" x2="254.6" y2="267.74" stroke="#3f6fa8" stroke-width="0.8"/>
<rect x="250.95" y="269.07" width="4.10" height="99.03" fill="#1d4f88" stroke="#0f3360" stroke-width="0.6"/>
<line x1="260" y1="337.01" x2="260" y2="342.95" stroke="#dd5a70" stroke-width="0.8"/>
<line x1="258.4" y1="337.01" x2="261.6" y2="337.01" stroke="#dd5a70" stroke-width="0.8"/>
<rect x="257.95" y="343.25" width="4.10" height="24.86" fill="#cf1637" stroke="#a10c28" stroke-width="0.6"/>
<line x1="267" y1="358.30" x2="267" y2="359.97" stroke="#6cc078" stroke-width="0.8"/>
<line x1="265.4" y1="358.30" x2="268.6" y2="358.30" stroke="#6cc078" stroke-width="0.8"/>
<rect x="264.95" y="360.27" width="4.10" height="7.83" fill="#45b052" stroke="#2e8a3b" stroke-width="0.6"/>
<line x1="286" y1="368.1" x2="286" y2="371.1" stroke="#2a2a2a" stroke-width="0.9"/>
<line x1="279" y1="315.98" x2="279" y2="317.02" stroke="#3f6fa8" stroke-width="0.8"/>
<line x1="277.4" y1="315.98" x2="280.6" y2="315.98" stroke="#3f6fa8" stroke-width="0.8"/>
<rect x="276.95" y="317.32" width="4.10" height="50.78" fill="#1d4f88" stroke="#0f3360" stroke-width="0.6"/>
<line x1="286" y1="357.52" x2="286" y2="359.46" stroke="#dd5a70" stroke-width="0.8"/>
<line x1="284.4" y1="357.52" x2="287.6" y2="357.52" stroke="#dd5a70" stroke-width="0.8"/>
<rect x="283.95" y="359.76" width="4.10" height="8.34" fill="#cf1637" stroke="#a10c28" stroke-width="0.6"/>
<line x1="293" y1="363.46" x2="293" y2="365.00" stroke="#6cc078" stroke-width="0.8"/>
<line x1="291.4" y1="363.46" x2="294.6" y2="363.46" stroke="#6cc078" stroke-width="0.8"/>
<rect x="290.95" y="365.30" width="4.10" height="2.80" fill="#45b052" stroke="#2e8a3b" stroke-width="0.6"/>
<line x1="312" y1="368.1" x2="312" y2="371.1" stroke="#2a2a2a" stroke-width="0.9"/>
<line x1="305" y1="354.94" x2="305" y2="359.97" stroke="#3f6fa8" stroke-width="0.8"/>
<line x1="303.4" y1="354.94" x2="306.6" y2="354.94" stroke="#3f6fa8" stroke-width="0.8"/>
<rect x="302.95" y="360.27" width="4.10" height="7.83" fill="#1d4f88" stroke="#0f3360" stroke-width="0.6"/>
<line x1="312" y1="364.23" x2="312" y2="366.55" stroke="#dd5a70" stroke-width="0.8"/>
<line x1="310.4" y1="364.23" x2="313.6" y2="364.23" stroke="#dd5a70" stroke-width="0.8"/>
<rect x="309.95" y="366.85" width="4.10" height="1.25" fill="#cf1637" stroke="#a10c28" stroke-width="0.6"/>
<line x1="319" y1="362.68" x2="319" y2="364.49" stroke="#6cc078" stroke-width="0.8"/>
<line x1="317.4" y1="362.68" x2="320.6" y2="362.68" stroke="#6cc078" stroke-width="0.8"/>
<rect x="316.95" y="364.79" width="4.10" height="3.31" fill="#45b052" stroke="#2e8a3b" stroke-width="0.6"/>
<line x1="338" y1="368.1" x2="338" y2="371.1" stroke="#2a2a2a" stroke-width="0.9"/>
<line x1="331" y1="313.02" x2="331" y2="317.02" stroke="#3f6fa8" stroke-width="0.8"/>
<line x1="329.4" y1="313.02" x2="332.6" y2="313.02" stroke="#3f6fa8" stroke-width="0.8"/>
<rect x="328.95" y="317.32" width="4.10" height="50.78" fill="#1d4f88" stroke="#0f3360" stroke-width="0.6"/>
<line x1="338" y1="317.02" x2="338" y2="321.02" stroke="#dd5a70" stroke-width="0.8"/>
<line x1="336.4" y1="317.02" x2="339.6" y2="317.02" stroke="#dd5a70" stroke-width="0.8"/>
<rect x="335.95" y="321.32" width="4.10" height="46.79" fill="#cf1637" stroke="#a10c28" stroke-width="0.6"/>
<line x1="345" y1="353.52" x2="345" y2="354.94" stroke="#6cc078" stroke-width="0.8"/>
<line x1="343.4" y1="353.52" x2="346.6" y2="353.52" stroke="#6cc078" stroke-width="0.8"/>
<rect x="342.95" y="355.24" width="4.10" height="12.86" fill="#45b052" stroke="#2e8a3b" stroke-width="0.6"/>
<line x1="364" y1="368.1" x2="364" y2="371.1" stroke="#2a2a2a" stroke-width="0.9"/>
<line x1="357" y1="351.85" x2="357" y2="353.27" stroke="#3f6fa8" stroke-width="0.8"/>
<line x1="355.4" y1="351.85" x2="358.6" y2="351.85" stroke="#3f6fa8" stroke-width="0.8"/>
<rect x="354.95" y="353.57" width="4.10" height="14.54" fill="#1d4f88" stroke="#0f3360" stroke-width="0.6"/>
<line x1="364" y1="350.56" x2="364" y2="354.56" stroke="#dd5a70" stroke-width="0.8"/>
<line x1="362.4" y1="350.56" x2="365.6" y2="350.56" stroke="#dd5a70" stroke-width="0.8"/>
<rect x="361.95" y="354.86" width="4.10" height="13.24" fill="#cf1637" stroke="#a10c28" stroke-width="0.6"/>
<line x1="371" y1="362.55" x2="371" y2="364.49" stroke="#6cc078" stroke-width="0.8"/>
<line x1="369.4" y1="362.55" x2="372.6" y2="362.55" stroke="#6cc078" stroke-width="0.8"/>
<rect x="368.95" y="364.79" width="4.10" height="3.31" fill="#45b052" stroke="#2e8a3b" stroke-width="0.6"/>
<line x1="390" y1="368.1" x2="390" y2="371.1" stroke="#2a2a2a" stroke-width="0.9"/>
<line x1="383" y1="351.20" x2="383" y2="354.04" stroke="#3f6fa8" stroke-width="0.8"/>
<line x1="381.4" y1="351.20" x2="384.6" y2="351.20" stroke="#3f6fa8" stroke-width="0.8"/>
<rect x="380.95" y="354.34" width="4.10" height="13.76" fill="#1d4f88" stroke="#0f3360" stroke-width="0.6"/>
<line x1="397" y1="362.55" x2="397" y2="364.49" stroke="#6cc078" stroke-width="0.8"/>
<line x1="395.4" y1="362.55" x2="398.6" y2="362.55" stroke="#6cc078" stroke-width="0.8"/>
<rect x="394.95" y="364.79" width="4.10" height="3.31" fill="#45b052" stroke="#2e8a3b" stroke-width="0.6"/>
<line x1="416" y1="368.1" x2="416" y2="371.1" stroke="#2a2a2a" stroke-width="0.9"/>
<line x1="409" y1="357.65" x2="409" y2="358.94" stroke="#3f6fa8" stroke-width="0.8"/>
<line x1="407.4" y1="357.65" x2="410.6" y2="357.65" stroke="#3f6fa8" stroke-width="0.8"/>
<rect x="406.95" y="359.24" width="4.10" height="8.86" fill="#1d4f88" stroke="#0f3360" stroke-width="0.6"/>
<line x1="423" y1="364.49" x2="423" y2="366.04" stroke="#6cc078" stroke-width="0.8"/>
<line x1="421.4" y1="364.49" x2="424.6" y2="364.49" stroke="#6cc078" stroke-width="0.8"/>
<rect x="420.95" y="366.34" width="4.10" height="1.76" fill="#45b052" stroke="#2e8a3b" stroke-width="0.6"/>
<line x1="442" y1="368.1" x2="442" y2="371.1" stroke="#2a2a2a" stroke-width="0.9"/>
<line x1="435" y1="351.46" x2="435" y2="353.78" stroke="#3f6fa8" stroke-width="0.8"/>
<line x1="433.4" y1="351.46" x2="436.6" y2="351.46" stroke="#3f6fa8" stroke-width="0.8"/>
<rect x="432.95" y="354.08" width="4.10" height="14.02" fill="#1d4f88" stroke="#0f3360" stroke-width="0.6"/>
<line x1="442" y1="335.85" x2="442" y2="337.01" stroke="#dd5a70" stroke-width="0.8"/>
<line x1="440.4" y1="335.85" x2="443.6" y2="335.85" stroke="#dd5a70" stroke-width="0.8"/>
<rect x="439.95" y="337.31" width="4.10" height="30.79" fill="#cf1637" stroke="#a10c28" stroke-width="0.6"/>
<line x1="449" y1="358.68" x2="449" y2="359.97" stroke="#6cc078" stroke-width="0.8"/>
<line x1="447.4" y1="358.68" x2="450.6" y2="358.68" stroke="#6cc078" stroke-width="0.8"/>
<rect x="446.95" y="360.27" width="4.10" height="7.83" fill="#45b052" stroke="#2e8a3b" stroke-width="0.6"/>
<line x1="468" y1="368.1" x2="468" y2="371.1" stroke="#2a2a2a" stroke-width="0.9"/>
<line x1="461" y1="356.88" x2="461" y2="359.20" stroke="#3f6fa8" stroke-width="0.8"/>
<line x1="459.4" y1="356.88" x2="462.6" y2="356.88" stroke="#3f6fa8" stroke-width="0.8"/>
<rect x="458.95" y="359.50" width="4.10" height="8.60" fill="#1d4f88" stroke="#0f3360" stroke-width="0.6"/>
<line x1="468" y1="353.01" x2="468" y2="360.36" stroke="#dd5a70" stroke-width="0.8"/>
<line x1="466.4" y1="353.01" x2="469.6" y2="353.01" stroke="#dd5a70" stroke-width="0.8"/>
<rect x="465.95" y="360.66" width="4.10" height="7.44" fill="#cf1637" stroke="#a10c28" stroke-width="0.6"/>
<line x1="475" y1="361.00" x2="475" y2="362.94" stroke="#6cc078" stroke-width="0.8"/>
<line x1="473.4" y1="361.00" x2="476.6" y2="361.00" stroke="#6cc078" stroke-width="0.8"/>
<rect x="472.95" y="363.24" width="4.10" height="4.86" fill="#45b052" stroke="#2e8a3b" stroke-width="0.6"/>
<line x1="494" y1="368.1" x2="494" y2="371.1" stroke="#2a2a2a" stroke-width="0.9"/>
<line x1="487" y1="359.72" x2="487" y2="362.30" stroke="#3f6fa8" stroke-width="0.8"/>
<line x1="485.4" y1="359.72" x2="488.6" y2="359.72" stroke="#3f6fa8" stroke-width="0.8"/>
<rect x="484.95" y="362.60" width="4.10" height="5.50" fill="#1d4f88" stroke="#0f3360" stroke-width="0.6"/>
<line x1="501" y1="361.65" x2="501" y2="363.84" stroke="#6cc078" stroke-width="0.8"/>
<line x1="499.4" y1="361.65" x2="502.6" y2="361.65" stroke="#6cc078" stroke-width="0.8"/>
<rect x="498.95" y="364.14" width="4.10" height="3.96" fill="#45b052" stroke="#2e8a3b" stroke-width="0.6"/>
<line x1="116.75" y1="224" x2="116.75" y2="368.1" stroke="#6a6a6a" stroke-width="1.3" stroke-dasharray="4.7 2.3" stroke-dashoffset="1.9"/>
<line x1="195.0" y1="224" x2="195.0" y2="368.1" stroke="#6a6a6a" stroke-width="1.3" stroke-dasharray="4.7 2.3" stroke-dashoffset="1.9"/>
<line x1="247.0" y1="224" x2="247.0" y2="368.1" stroke="#6a6a6a" stroke-width="1.3" stroke-dasharray="4.7 2.3" stroke-dashoffset="1.9"/>
<line x1="377.0" y1="224" x2="377.0" y2="368.1" stroke="#6a6a6a" stroke-width="1.3" stroke-dasharray="4.7 2.3" stroke-dashoffset="1.9"/>
<text x="144.20" y="243.60" font-size="7.4" fill="#d98a55" text-anchor="start" font-weight="normal" textLength="20.8" lengthAdjust="spacingAndGlyphs">BCL-2</text>
<text x="207.60" y="243.60" font-size="7.4" fill="#c83a5a" text-anchor="start" font-weight="normal" >BCL-2/</text>
<text x="207.60" y="253.20" font-size="7.4" fill="#c83a5a" text-anchor="start" font-weight="normal" >BCL-xL</text>
<text x="313.10" y="243.60" font-size="7.4" fill="#b43c4c" text-anchor="start" font-weight="normal" textLength="25" lengthAdjust="spacingAndGlyphs">BCL-xL</text>
<text x="408.70" y="243.60" font-size="7.9" fill="#d8369e" text-anchor="start" font-weight="normal" >MCL-1</text>
<rect x="459.6" y="221.70" width="5.6" height="5.6" fill="#1d4f88"/>
<text x="468.80" y="227.50" font-size="8.2" fill="#222" text-anchor="start" font-weight="normal" >Pt #9</text>
<rect x="459.6" y="233.50" width="5.6" height="5.6" fill="#cf1637"/>
<text x="468.80" y="239.30" font-size="8.2" fill="#222" text-anchor="start" font-weight="normal" >Pt #10</text>
<rect x="459.6" y="245.30" width="5.6" height="5.6" fill="#45b052"/>
<text x="468.80" y="251.10" font-size="8.2" fill="#222" text-anchor="start" font-weight="normal" >MOLM13</text>
<text transform="translate(51.60 378.0) rotate(-45)" font-size="7.9" fill="#333" text-anchor="end">DMSO</text>
<text transform="translate(77.60 378.0) rotate(-45)" font-size="7.9" fill="#333" text-anchor="end">Ala 25 μM</text>
<text transform="translate(103.60 378.0) rotate(-45)" font-size="7.9" fill="#333" text-anchor="end">BIM 0.3 μM</text>
<text transform="translate(129.60 378.0) rotate(-45)" font-size="7.9" fill="#333" text-anchor="end">ABT-199 1000 nM</text>
<text transform="translate(155.60 378.0) rotate(-45)" font-size="7.9" fill="#333" text-anchor="end">0.1 μM</text>
<text transform="translate(181.60 378.0) rotate(-45)" font-size="7.9" fill="#333" text-anchor="end">100 nM</text>
<text transform="translate(207.60 378.0) rotate(-45)" font-size="7.9" fill="#333" text-anchor="end">ABT-263 1000 nM</text>
<text transform="translate(233.60 378.0) rotate(-45)" font-size="7.9" fill="#333" text-anchor="end">100 nM</text>
<text transform="translate(259.60 378.0) rotate(-45)" font-size="7.9" fill="#333" text-anchor="end">HRK-y 100 μM</text>
<text transform="translate(285.60 378.0) rotate(-45)" font-size="7.9" fill="#333" text-anchor="end">10 μM</text>
<text transform="translate(311.60 378.0) rotate(-45)" font-size="7.9" fill="#333" text-anchor="end">1 μM</text>
<text transform="translate(337.60 378.0) rotate(-45)" font-size="7.9" fill="#333" text-anchor="end">DT2216 1000 nM</text>
<text transform="translate(363.60 378.0) rotate(-45)" font-size="7.9" fill="#333" text-anchor="end">100 nM</text>
<text transform="translate(389.60 378.0) rotate(-45)" font-size="7.9" fill="#333" text-anchor="end">S63845 1000 nM</text>
<text transform="translate(415.60 378.0) rotate(-45)" font-size="7.9" fill="#333" text-anchor="end">100 nM</text>
<text transform="translate(441.60 378.0) rotate(-45)" font-size="7.9" fill="#333" text-anchor="end">Noxa 100 μM</text>
<text transform="translate(467.60 378.0) rotate(-45)" font-size="7.9" fill="#333" text-anchor="end">10 μM</text>
<text transform="translate(493.60 378.0) rotate(-45)" font-size="7.9" fill="#333" text-anchor="end">1 μM</text>
<text x="7.00" y="449.30" font-size="12" fill="#111" text-anchor="start" font-weight="bold" textLength="7.3" lengthAdjust="spacingAndGlyphs">C</text>
<line x1="103.9" y1="455.8" x2="103.9" y2="579.6" stroke="#2a2a2a" stroke-width="1.2"/>
<line x1="103.30000000000001" y1="579.0" x2="229" y2="579.0" stroke="#2a2a2a" stroke-width="1.3"/>
<line x1="103.90" y1="579.0" x2="103.90" y2="581.8" stroke="#2a2a2a" stroke-width="1"/>
<text x="103.90" y="591.70" font-size="7.4" fill="#333" text-anchor="middle" font-weight="normal" >0</text>
<line x1="128.42" y1="579.0" x2="128.42" y2="581.8" stroke="#2a2a2a" stroke-width="1"/>
<text x="128.42" y="591.70" font-size="7.4" fill="#333" text-anchor="middle" font-weight="normal" >20</text>
<line x1="152.95" y1="579.0" x2="152.95" y2="581.8" stroke="#2a2a2a" stroke-width="1"/>
<text x="152.95" y="591.70" font-size="7.4" fill="#333" text-anchor="middle" font-weight="normal" >40</text>
<line x1="177.47" y1="579.0" x2="177.47" y2="581.8" stroke="#2a2a2a" stroke-width="1"/>
<text x="177.47" y="591.70" font-size="7.4" fill="#333" text-anchor="middle" font-weight="normal" >60</text>
<line x1="202.00" y1="579.0" x2="202.00" y2="581.8" stroke="#2a2a2a" stroke-width="1"/>
<text x="202.00" y="591.70" font-size="7.4" fill="#333" text-anchor="middle" font-weight="normal" >80</text>
<line x1="226.52" y1="579.0" x2="226.52" y2="581.8" stroke="#2a2a2a" stroke-width="1"/>
<text x="226.52" y="591.70" font-size="7.4" fill="#333" text-anchor="middle" font-weight="normal" >100</text>
<text x="165.80" y="604.80" font-size="8.6" fill="#333" text-anchor="middle" font-weight="normal" textLength="79.5" lengthAdjust="spacingAndGlyphs">% Colonies, normalized</text>
<rect x="103.9" y="466.70" width="28.70" height="16.5" fill="#9a7fae"/>
<line x1="101.10000000000001" y1="474.90" x2="103.9" y2="474.90" stroke="#2a2a2a" stroke-width="1"/>
<text x="98.20" y="477.80" font-size="8.2" fill="#222" text-anchor="end" font-weight="normal" >AZA 100 nM + DT 50 nM</text>
<rect x="103.9" y="494.70" width="37.40" height="16.5" fill="#a2d39a"/>
<line x1="101.10000000000001" y1="502.90" x2="103.9" y2="502.90" stroke="#2a2a2a" stroke-width="1"/>
<text x="98.20" y="505.80" font-size="8.2" fill="#222" text-anchor="end" font-weight="normal" >DT2216 50 nM</text>
<rect x="103.9" y="523.80" width="85.50" height="16.5" fill="#e0887b"/>
<line x1="101.10000000000001" y1="532.00" x2="103.9" y2="532.00" stroke="#2a2a2a" stroke-width="1"/>
<text x="98.20" y="534.90" font-size="8.2" fill="#222" text-anchor="end" font-weight="normal" >AZA 100 nM</text>
<rect x="103.9" y="552.10" width="121.50" height="16.5" fill="#8491b6"/>
<line x1="101.10000000000001" y1="560.30" x2="103.9" y2="560.30" stroke="#2a2a2a" stroke-width="1"/>
<text x="98.20" y="563.20" font-size="8.2" fill="#222" text-anchor="end" font-weight="normal" >DMSO</text>
<line x1="128.6" y1="475.0" x2="139.9" y2="475.0" stroke="#5b3a7c" stroke-width="1"/>
<line x1="128.6" y1="470.25" x2="128.6" y2="479.75" stroke="#5b3a7c" stroke-width="1"/>
<line x1="139.9" y1="470.25" x2="139.9" y2="479.75" stroke="#5b3a7c" stroke-width="1"/>
<rect x="130.00" y="465.50" width="5.00" height="5.00" fill="#111"/>
<circle cx="139.90" cy="475.00" r="2.50" fill="#111"/>
<path d="M128.80,479.38 L131.30,483.75 L126.30,483.75 Z" fill="#111"/>
<line x1="132.3" y1="503.5" x2="154.2" y2="503.5" stroke="#3c6b42" stroke-width="1"/>
<line x1="154.2" y1="499.25" x2="154.2" y2="507.75" stroke="#3c6b42" stroke-width="1"/>
<path d="M132.30,500.88 L134.80,505.25 L129.80,505.25 Z" fill="#111"/>
<rect x="138.30" y="501.00" width="5.00" height="5.00" fill="#111"/>
<circle cx="156.50" cy="503.50" r="2.50" fill="#111"/>
<line x1="183.5" y1="531.5" x2="197.3" y2="531.5" stroke="#9a2a3a" stroke-width="1"/>
<line x1="183.5" y1="526.75" x2="183.5" y2="536.25" stroke="#9a2a3a" stroke-width="1"/>
<line x1="197.3" y1="526.75" x2="197.3" y2="536.25" stroke="#9a2a3a" stroke-width="1"/>
<path d="M193.20,520.58 L195.70,524.95 L190.70,524.95 Z" fill="#111"/>
<circle cx="183.50" cy="531.50" r="2.50" fill="#111"/>
<rect x="194.10" y="536.90" width="5.00" height="5.00" fill="#111"/>
<path d="M225.40,548.58 L227.90,552.95 L222.90,552.95 Z" fill="#111"/>
<circle cx="225.40" cy="559.70" r="2.50" fill="#111"/>
<rect x="224.00" y="565.50" width="5.00" height="5.00" fill="#111"/>
<circle cx="185.80" cy="468.80" r="2.60" fill="#111"/>
<text x="192.80" y="471.60" font-size="7.6" fill="#222" text-anchor="start" font-weight="normal" >Pt #1</text>
<rect x="183.00" y="477.10" width="5.60" height="5.60" fill="#111"/>
<text x="192.80" y="482.70" font-size="7.6" fill="#222" text-anchor="start" font-weight="normal" >Pt #3</text>
<path d="M185.80,488.06 L188.60,492.96 L183.00,492.96 Z" fill="#111"/>
<text x="192.80" y="493.80" font-size="7.6" fill="#222" text-anchor="start" font-weight="normal" >Pt #5</text>
<path d="M231.3,474.8 H239.1 V501.0 H231.3" fill="none" stroke="#383838" stroke-width="1.1"/>
<text transform="translate(241.0 483.9) rotate(90)" font-size="7.5" fill="#333" text-anchor="start">ns</text>
<path d="M231.3,505.9 H239.1 V529.3 H231.3" fill="none" stroke="#383838" stroke-width="1.1"/>
<circle cx="243.30" cy="515.65" r="1.05" fill="#2e2e2e"/>
<circle cx="243.30" cy="519.55" r="1.05" fill="#2e2e2e"/>
<path d="M231.3,534.2 H239.1 V560.6 H231.3" fill="none" stroke="#383838" stroke-width="1.1"/>
<circle cx="243.30" cy="543.55" r="1.05" fill="#2e2e2e"/>
<circle cx="243.30" cy="547.20" r="1.05" fill="#2e2e2e"/>
<circle cx="243.30" cy="550.85" r="1.05" fill="#2e2e2e"/>
<path d="M248.9,503.0 H256.3 V560.6 H248.9" fill="none" stroke="#383838" stroke-width="1.1"/>
<circle cx="260.80" cy="528.15" r="1.05" fill="#2e2e2e"/>
<circle cx="260.80" cy="531.80" r="1.05" fill="#2e2e2e"/>
<circle cx="260.80" cy="535.45" r="1.05" fill="#2e2e2e"/>
<path d="M266.5,474.8 H273.9 V532.3 H266.5" fill="none" stroke="#383838" stroke-width="1.1"/>
<circle cx="278.10" cy="499.75" r="1.05" fill="#2e2e2e"/>
<circle cx="278.10" cy="503.40" r="1.05" fill="#2e2e2e"/>
<circle cx="278.10" cy="507.05" r="1.05" fill="#2e2e2e"/>
<path d="M281.0,474.8 H288.5 V560.6 H281.0" fill="none" stroke="#383838" stroke-width="1.1"/>
<circle cx="292.70" cy="512.20" r="1.05" fill="#2e2e2e"/>
<circle cx="292.70" cy="515.80" r="1.05" fill="#2e2e2e"/>
<circle cx="292.70" cy="519.40" r="1.05" fill="#2e2e2e"/>
<circle cx="292.70" cy="523.00" r="1.05" fill="#2e2e2e"/>
<text x="310.60" y="449.30" font-size="12" fill="#111" text-anchor="start" font-weight="bold" >D</text>
<text x="384.40" y="462.50" font-size="8.2" fill="#222" text-anchor="middle" font-weight="normal" >DMSO</text>
<text x="423.40" y="462.50" font-size="8.2" fill="#222" text-anchor="middle" font-weight="normal" >DT2216</text>
<text x="460.60" y="462.50" font-size="8.2" fill="#222" text-anchor="middle" font-weight="normal" >AZA</text>
<text x="494.20" y="462.50" font-size="8.2" fill="#222" text-anchor="middle" font-weight="normal" >DT+AZA</text>
<text x="311.00" y="476.90" font-size="8.0" fill="#222" text-anchor="start" font-weight="normal" >Cell count (e6)</text>
<text x="384.40" y="476.90" font-size="8.2" fill="#222" text-anchor="middle" font-weight="normal" >3.9</text>
<text x="423.40" y="476.90" font-size="8.2" fill="#222" text-anchor="middle" font-weight="normal" >1.7</text>
<text x="460.60" y="476.90" font-size="8.2" fill="#222" text-anchor="middle" font-weight="normal" >2.9</text>
<text x="494.20" y="476.90" font-size="8.2" fill="#222" text-anchor="middle" font-weight="normal" >1.5</text>
<rect x="366.8" y="480.80" width="144.8" height="22.40" fill="#d9d9d9"/>
<text x="363.40" y="494.50" font-size="8.1" fill="#222" text-anchor="end" font-weight="normal" >BCL-XL</text>
<text x="384.40" y="514.40" font-size="8.3" fill="#222" text-anchor="middle" font-weight="normal" >1.00</text>
<text x="423.40" y="514.40" font-size="8.3" fill="#222" text-anchor="middle" font-weight="normal" >0.19</text>
<text x="460.60" y="514.40" font-size="8.3" fill="#222" text-anchor="middle" font-weight="normal" >0.89</text>
<text x="494.20" y="514.40" font-size="8.3" fill="#222" text-anchor="middle" font-weight="normal" >0.20</text>
<rect x="366.8" y="517.80" width="144.8" height="17.20" fill="#d9d9d9"/>
<text x="363.40" y="528.90" font-size="8.1" fill="#222" text-anchor="end" font-weight="normal" >BCL-2</text>
<text x="384.40" y="546.20" font-size="8.3" fill="#222" text-anchor="middle" font-weight="normal" >1.00</text>
<text x="423.40" y="546.20" font-size="8.3" fill="#222" text-anchor="middle" font-weight="normal" >1.42</text>
<text x="460.60" y="546.20" font-size="8.3" fill="#222" text-anchor="middle" font-weight="normal" >0.99</text>
<text x="494.20" y="546.20" font-size="8.3" fill="#222" text-anchor="middle" font-weight="normal" >1.73</text>
<rect x="366.8" y="549.90" width="144.8" height="19.60" fill="#d9d9d9"/>
<text x="363.40" y="562.20" font-size="8.1" fill="#222" text-anchor="end" font-weight="normal" >MCL-1</text>
<text x="384.40" y="580.70" font-size="8.3" fill="#222" text-anchor="middle" font-weight="normal" >1.00</text>
<text x="423.40" y="580.70" font-size="8.3" fill="#222" text-anchor="middle" font-weight="normal" >1.33</text>
<text x="460.60" y="580.70" font-size="8.3" fill="#222" text-anchor="middle" font-weight="normal" >1.62</text>
<text x="494.20" y="580.70" font-size="8.3" fill="#222" text-anchor="middle" font-weight="normal" >3.47</text>
<rect x="366.8" y="584.70" width="144.8" height="21.80" fill="#d9d9d9"/>
<text x="363.40" y="598.10" font-size="8.1" fill="#222" text-anchor="end" font-weight="normal" >α-Tubulin</text>
<rect x="368.00" y="482.00" width="33.00" height="20.00" fill="#aaaaaa" opacity="1.0" filter="url(#bl3)"/>
<rect x="444.00" y="483.00" width="32.00" height="19.00" fill="#c2c2c2" opacity="1.0" filter="url(#bl3)"/>
<rect x="370.50" y="486.80" width="28.50" height="2.80" rx="1.40" fill="#333333" opacity="1.0" filter="url(#bl08)"/>
<rect x="369.50" y="492.60" width="30.00" height="3.20" rx="1.60" fill="#000000" opacity="1.0" filter="url(#bl08)"/>
<rect x="446.50" y="487.30" width="27.50" height="3.80" rx="1.90" fill="#5e5e5e" opacity="1.0" filter="url(#bl12)"/>
<rect x="446.50" y="494.30" width="27.50" height="3.40" rx="1.70" fill="#141414" opacity="1.0" filter="url(#bl08)"/>
<rect x="408.00" y="493.00" width="28.00" height="3.00" rx="1.50" fill="#cacaca" opacity="1.0" filter="url(#bl2)"/>
<rect x="480.00" y="493.00" width="28.00" height="3.00" rx="1.50" fill="#c8c8c8" opacity="1.0" filter="url(#bl2)"/>
<rect x="370.20" y="524.30" width="28.30" height="4.40" rx="2.20" fill="#000" opacity="1.0" filter="url(#bl08)"/>
<rect x="407.70" y="523.70" width="28.80" height="4.60" rx="2.30" fill="#000" opacity="1.0" filter="url(#bl08)"/>
<rect x="443.70" y="524.00" width="26.80" height="4.40" rx="2.20" fill="#000" opacity="1.0" filter="url(#bl08)"/>
<rect x="478.80" y="521.85" width="29.70" height="3.90" rx="1.95" fill="#000" opacity="1.0" filter="url(#bl08)"/>
<rect x="369.00" y="558.80" width="28.00" height="5.00" rx="2.50" fill="#7e7e7e" opacity="1.0" filter="url(#bl12)"/>
<ellipse cx="372" cy="562" rx="2.2" ry="2.4" fill="#444" filter="url(#bl1)"/>
<rect x="406.50" y="557.30" width="28.50" height="5.00" rx="2.50" fill="#8a8a8a" opacity="1.0" filter="url(#bl12)"/>
<rect x="442.50" y="557.40" width="28.50" height="4.80" rx="2.40" fill="#6c6c6c" opacity="1.0" filter="url(#bl12)"/>
<rect x="477.50" y="556.90" width="30.50" height="4.80" rx="2.40" fill="#4c4c4c" opacity="1.0" filter="url(#bl12)"/>
<ellipse cx="504.6" cy="559.4" rx="3.0" ry="2.8" fill="#000" filter="url(#bl08)"/>
<rect x="369.50" y="592.20" width="29.90" height="4.80" rx="2.40" fill="#000" opacity="1.0" filter="url(#bl08)"/>
<rect x="407.60" y="593.20" width="29.50" height="4.80" rx="2.40" fill="#000" opacity="1.0" filter="url(#bl08)"/>
<rect x="445.50" y="594.60" width="28.70" height="5.20" rx="2.60" fill="#000" opacity="1.0" filter="url(#bl08)"/>
<rect x="481.00" y="593.70" width="28.00" height="4.60" rx="2.30" fill="#000" opacity="1.0" filter="url(#bl08)"/>
<rect x="366.8" y="480.80" width="144.8" height="22.40" fill="none" stroke="#2a2a2a" stroke-width="1.1"/>
<rect x="366.8" y="517.80" width="144.8" height="17.20" fill="none" stroke="#2a2a2a" stroke-width="1.1"/>
<rect x="366.8" y="549.90" width="144.8" height="19.60" fill="none" stroke="#2a2a2a" stroke-width="1.1"/>
<rect x="366.8" y="584.70" width="144.8" height="21.80" fill="none" stroke="#2a2a2a" stroke-width="1.1"/>
<rect x="0.5" y="0.5" width="519" height="614" fill="none" stroke="#555" stroke-width="1.2"/>
</svg>
</body></html>
